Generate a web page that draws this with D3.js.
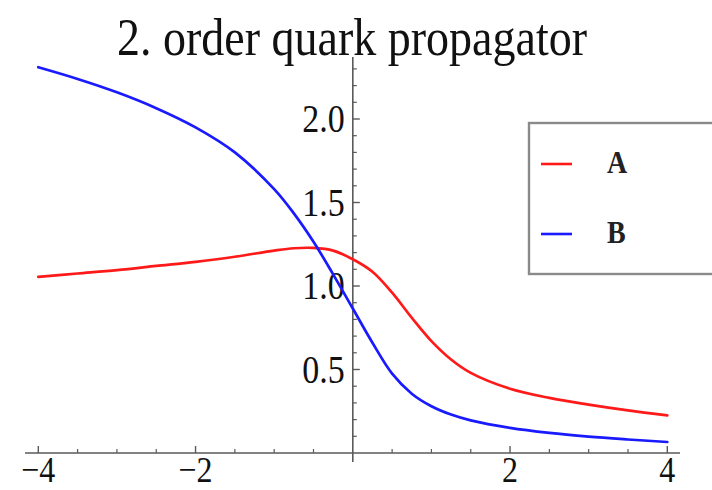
<!DOCTYPE html>
<html><head><meta charset="utf-8">
<script src="https://cdn.jsdelivr.net/npm/d3@7/dist/d3.min.js"></script>
<style>html,body{margin:0;padding:0;background:#fff;}svg{display:block;}</style>
</head><body>
<svg id="chart" width="712" height="490"></svg>
<script>
const titleText = "2. order quark propagator";
const xValues = [-4,-3.5,-3,-2.5,-2,-1.5,-1,-0.75,-0.5,-0.25,0,0.25,0.5,0.75,1,1.25,1.5,2,2.5,3,3.5,4];
const seriesA = [1.055,1.075,1.095,1.12,1.145,1.175,1.212,1.226,1.228,1.212,1.16,1.085,0.96,0.81,0.67,0.56,0.48,0.385,0.33,0.29,0.255,0.225];
const seriesB = [2.31,2.24,2.16,2.065,1.95,1.80,1.58,1.435,1.265,1.07,0.865,0.66,0.475,0.355,0.28,0.23,0.195,0.15,0.12,0.098,0.081,0.066];
const seriesNames = ["A","B"];
const seriesColors = ["#ff1a1a","#1a1aff"];
const xTickLabels = [-4,-2,2,4];
const yTickLabels = [0.5,1.0,1.5,2.0];

const svg = d3.select("#chart");
const x = d3.scaleLinear().domain([-4,4]).range([38.3,667.3]);
const y = d3.scaleLinear().domain([0,2]).range([453,119]);
const axisColor = "#5a5a5a";
const serif = "'Liberation Serif','Times New Roman',serif";
const sy = 1.15;

function addText(px, py, str, size, anchor, weight, fill){
  return svg.append("text")
    .attr("transform",`translate(${px},${py}) scale(1,${sy})`)
    .attr("text-anchor",anchor).attr("font-family",serif)
    .attr("font-size",size).attr("font-weight",weight||"normal")
    .attr("fill",fill||"#111").text(str);
}

// title
addText(352,55,titleText,46,"middle");

// axes lines
svg.append("line").attr("x1",25).attr("x2",680).attr("y1",y(0)).attr("y2",y(0))
  .attr("stroke",axisColor).attr("stroke-width",1.6);
svg.append("line").attr("x1",x(0)).attr("x2",x(0)).attr("y1",57).attr("y2",y(0)+9)
  .attr("stroke",axisColor).attr("stroke-width",1.6);

// x ticks
const xMinor = d3.range(-4,4.01,0.5).filter(v=>Math.abs(v)>1e-9 && !xTickLabels.includes(v));
svg.selectAll(".xmin").data(xMinor).enter().append("line")
  .attr("x1",d=>x(d)).attr("x2",d=>x(d)).attr("y1",y(0)).attr("y2",y(0)-4)
  .attr("stroke",axisColor).attr("stroke-width",1.2);
svg.selectAll(".xmaj").data(xTickLabels).enter().append("line")
  .attr("x1",d=>x(d)).attr("x2",d=>x(d)).attr("y1",y(0)).attr("y2",y(0)-7)
  .attr("stroke",axisColor).attr("stroke-width",1.4);
xTickLabels.forEach(d=>addText(x(d),482,d<0?"\u2212"+Math.abs(d):String(d),32,"middle"));

// y ticks
const yMinor = d3.range(0.1,2.35,0.1).filter(v=>Math.abs(v*2-Math.round(v*2))>1e-6);
svg.selectAll(".ymin").data(yMinor).enter().append("line")
  .attr("x1",x(0)).attr("x2",x(0)+4).attr("y1",d=>y(d)).attr("y2",d=>y(d))
  .attr("stroke",axisColor).attr("stroke-width",1.2);
svg.selectAll(".ymaj").data(yTickLabels).enter().append("line")
  .attr("x1",x(0)).attr("x2",x(0)+7).attr("y1",d=>y(d)).attr("y2",d=>y(d))
  .attr("stroke",axisColor).attr("stroke-width",1.4);
yTickLabels.forEach(d=>addText(x(0)-8,y(d)+13,d.toFixed(1),34,"end"));

// curves
const line = d3.line().x(d=>x(d[0])).y(d=>y(d[1])).curve(d3.curveCatmullRom.alpha(0.5));
[seriesA,seriesB].forEach((s,i)=>{
  svg.append("path").datum(xValues.map((v,j)=>[v,s[j]]))
    .attr("d",line).attr("fill","none").attr("stroke",seriesColors[i])
    .attr("stroke-width",2.7).attr("stroke-linecap","round");
});

// legend
svg.append("rect").attr("x",529).attr("y",123).attr("width",200).attr("height",151)
  .attr("fill","#fff").attr("stroke","#8a8a8a").attr("stroke-width",2.4);
const legY = [164,234];
seriesNames.forEach((n,i)=>{
  svg.append("line").attr("x1",541).attr("x2",572).attr("y1",legY[i]).attr("y2",legY[i])
    .attr("stroke",seriesColors[i]).attr("stroke-width",2.6);
  addText(607,legY[i]+9,n,28,"start","bold","#222");
});
</script>
</body></html>
